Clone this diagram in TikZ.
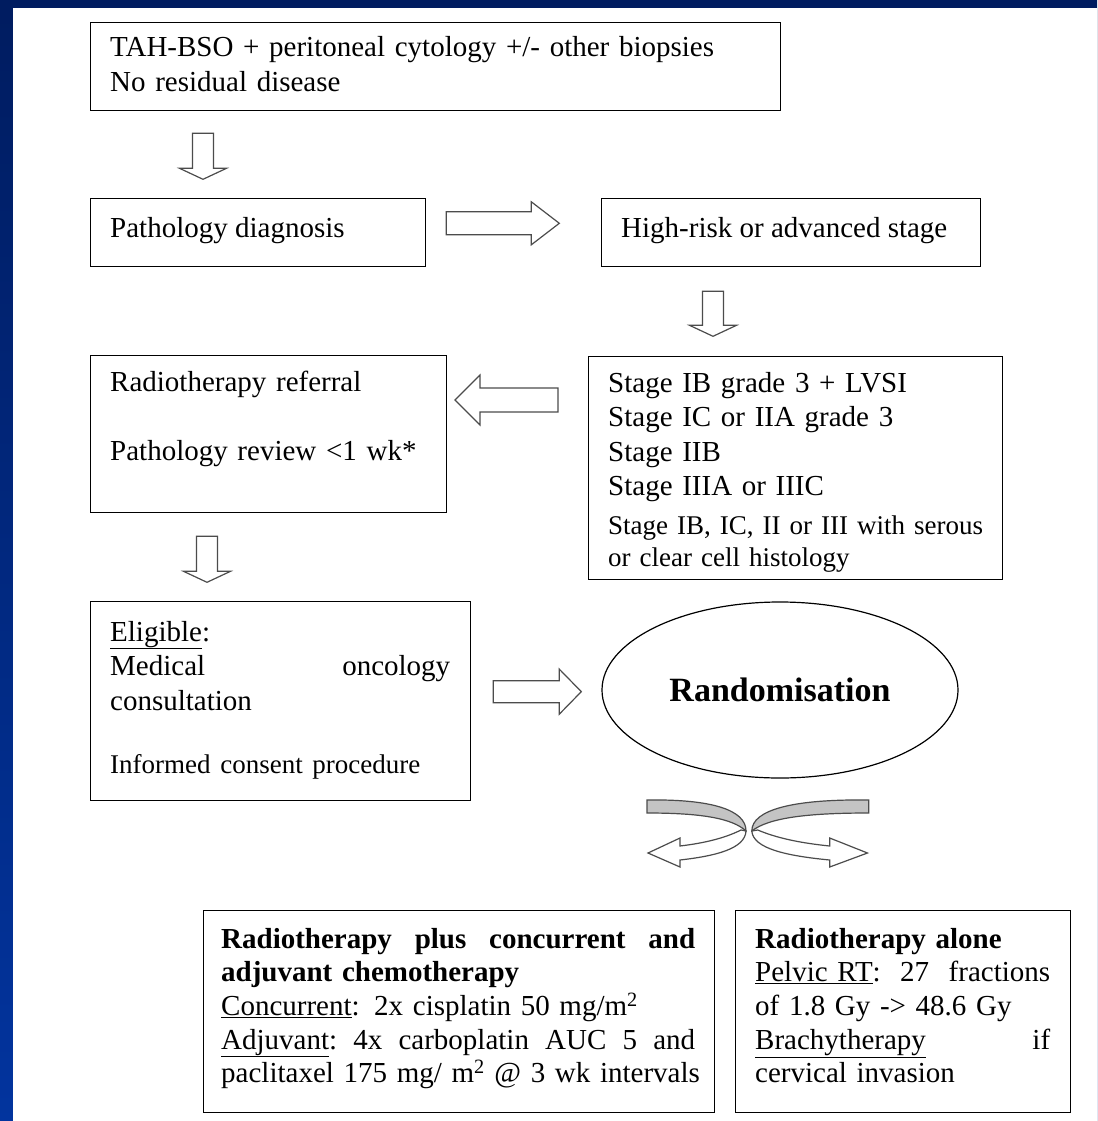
\documentclass[tikz,border=0pt]{standalone}
\usepackage{fontspec}
\setmainfont{Liberation Serif}
\usetikzlibrary{shapes.geometric}
\definecolor{slidetop}{RGB}{0,28,96}
\definecolor{slidebot}{RGB}{2,52,158}
\definecolor{bandgray}{RGB}{196,196,196}

\begin{document}
\begin{tikzpicture}[x=1pt,y=-1pt,
		box/.style={draw,line width=1.3pt,rectangle,inner sep=0pt,anchor=north west},
		txt/.style={anchor=base west,inner sep=0pt,align=left,font=\fontsize{29}{34.5}\selectfont},
		small/.style={txt,font=\fontsize{27}{32}\selectfont},
		arrowline/.style={draw=black!70,line width=1.2pt,fill=white,line join=miter},
		pics/barrow/.style n args={4}{code={\path[arrowline] (0,-#2) -- (#1-#4,-#2) -- (#1-#4,-#3) -- (#1,0) -- (#1-#4,#3) -- (#1-#4,#2) -- (0,#2) -- cycle;}}]
			\shade[top color=slidetop,bottom color=slidebot] (0,0) rectangle (1097,1121);
			\fill[white] (13,8) rectangle (1097,1121);
			\useasboundingbox (0,0) rectangle (1097,1121);

			\node[box,minimum width=690pt,minimum height=88pt] (surg) at (90,22) {};
			\node[txt,text width=660pt] (surgtxt) at ([shift={(20,35)}]surg.north west) {TAH-BSO + peritoneal cytology +/- other biopsies\\No residual disease};
			\pic[rotate=-90] at ([shift={(113,22)}]surg.south west) {barrow={46}{10.5}{23.5}{11}};

			\node[box,minimum width=335pt,minimum height=68pt] (patho) at (90,198) {};
			\node[txt] (pathotxt) at ([shift={(20,39)}]patho.north west) {Pathology diagnosis};
			\pic at ([shift={(20,-44)}]patho.south east) {barrow={113}{11.5}{21.5}{28}};

			\node[box,minimum width=379pt,minimum height=68pt] (hirisk) at (601,198) {};
			\node[txt] (hirisktxt) at ([shift={(20,39)}]hirisk.north west) {High-risk or advanced stage};
			\pic[rotate=-90] at ([shift={(112,24)}]hirisk.south west) {barrow={45}{10.5}{23.5}{11}};

			\node[box,minimum width=414pt,minimum height=223pt] (stages) at (588,356) {};
			\node[txt,text width=390pt] (stagestxt) at ([shift={(20,36)}]stages.north west) {Stage IB grade 3 + LVSI\\Stage IC or IIA grade 3\\Stage IIB\\Stage IIIA or IIIC};
			\node[small,text width=400pt] (stagesnote) at ([shift={(20,178)}]stages.north west) {Stage IB, IC, II or III with serous\\or clear cell histology};
			\pic[rotate=180] at ([shift={(-30,44)}]stages.north west) {barrow={103}{12}{25}{25}};

			\node[box,minimum width=356pt,minimum height=157pt] (refer) at (90,355) {};
			\node[txt,text width=330pt] (refertxt) at ([shift={(20,36)}]refer.north west) {Radiotherapy referral\\[34.5pt]Pathology review <1 wk*};
			\pic[rotate=-90] at ([shift={(117,23)}]refer.south west) {barrow={46}{10.5}{23.5}{11}};

			\node[box,minimum width=380pt,minimum height=199pt] (elig) at (90,601) {};
			\node[txt,text width=340pt] (eligtxt) at ([shift={(20,40)}]elig.north west) {\underline{Eligible}:\\Medical\hfill oncology\\consultation\\[29pt]{\fontsize{27}{32}\selectfont Informed consent procedure}};
			\pic at ([shift={(22,-9.5)}]elig.east) {barrow={88}{11}{22.5}{22}};

			\node[ellipse,draw,line width=1.2pt,minimum width=356pt,minimum height=176pt,inner sep=0pt,font=\fontsize{34}{40}\selectfont\bfseries] (rand) at (780,690) {Randomisation};

			\foreach \sx/\ox in {1/745,-1.18/753}{
				\begin{scope}[shift={(\ox,0)},xscale=\sx]
					\path[arrowline,fill=bandgray] (-98,800) .. controls (-33,799) and (1,810) .. (1,831) .. controls (-13,818) and (-45,813) .. (-98,813) -- cycle;
					\path[arrowline] (-4,830) .. controls (-20,838) and (-40,843) .. (-65,846) -- (-65,838) -- (-97,853) -- (-65,867) -- (-65,860) .. controls (-30,856) and (0,849) .. (1,831) -- cycle;
				\end{scope}
			}

			\node[box,minimum width=511pt,minimum height=202pt] (chemo) at (203,910) {};
			\node[txt,text width=474pt,font=\fontsize{29}{33.7}\selectfont] (chemotxt) at ([shift={(18,38)}]chemo.north west) {\textbf{Radiotherapy\hfill plus\hfill concurrent\hfill and}\\\textbf{adjuvant chemotherapy}\\\underline{Concurrent}: 2x cisplatin 50 mg/m\textsuperscript{2}\\\underline{Adjuvant}:\hfill 4x\hfill carboplatin\hfill AUC\hfill 5\hfill and\\\mbox{paclitaxel 175 mg/ m\textsuperscript{2} @ 3 wk intervals}};

			\node[box,minimum width=335pt,minimum height=202pt] (alone) at (735,910) {};
			\node[txt,text width=295pt,font=\fontsize{29}{33.7}\selectfont] (alonetxt) at ([shift={(20,38)}]alone.north west) {\textbf{Radiotherapy alone}\\\underline{Pelvic RT}:\hfill 27\hfill fractions\\of 1.8 Gy -> 48.6 Gy\\\underline{Brachytherapy}\hfill if\\cervical invasion};
		\end{tikzpicture}
\end{document}
